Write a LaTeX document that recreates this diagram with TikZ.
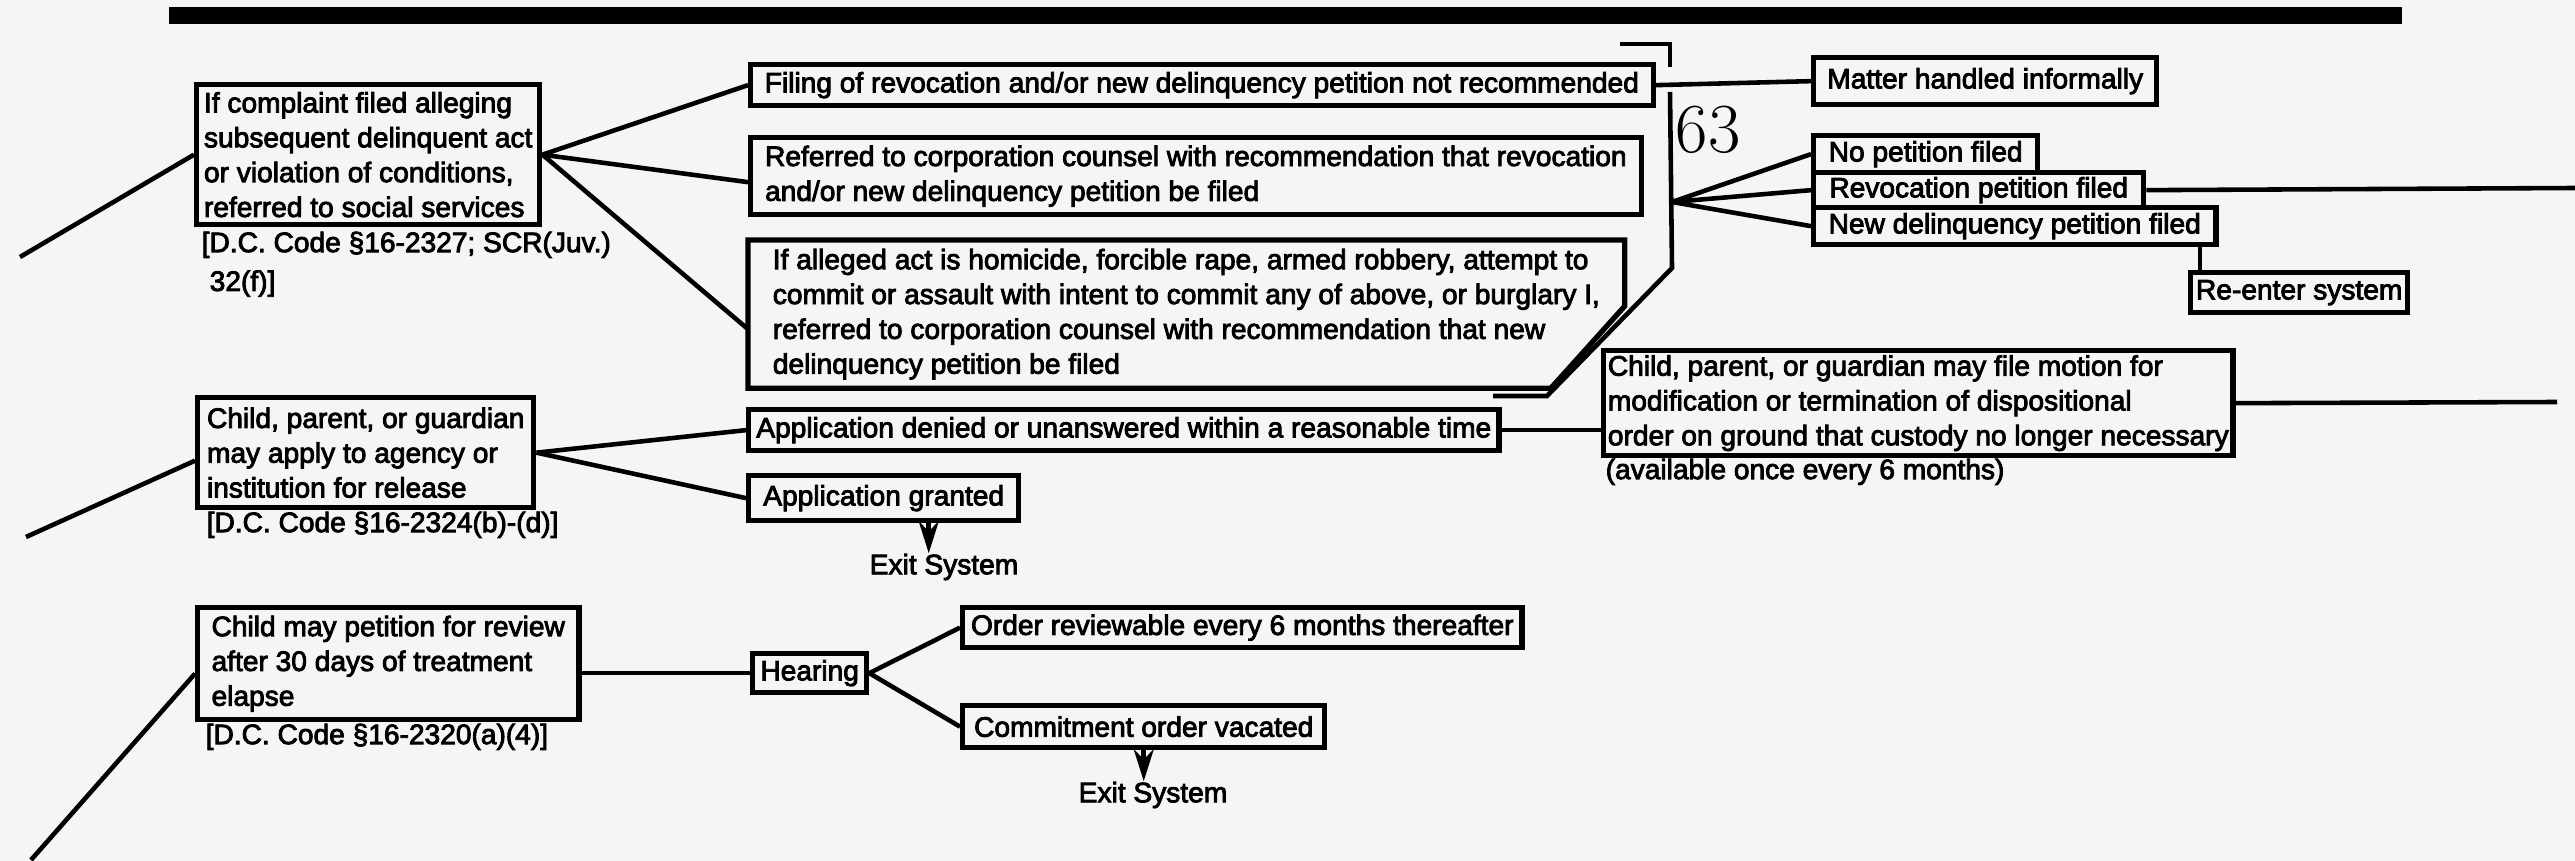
\documentclass[tikz,border=0pt]{standalone}
\usepackage{fontspec}
\usepackage{tikz}
\usetikzlibrary{arrows.meta, calc}
\newfontfamily\chartfont{Liberation Sans}[FakeBold=3]
\definecolor{paper}{RGB}{245,245,243}

\begin{document}
\begin{tikzpicture}[x=0.01cm, y=-0.01cm,
    box/.style={rectangle, draw, line width=1.5pt, anchor=north west, align=left,
        inner xsep=0.04cm, inner ysep=0pt, font=\chartfont\fontsize{8}{9.9}\selectfont},
    note/.style={anchor=north west, inner sep=0pt, align=left,
        font=\chartfont\fontsize{8}{9.9}\selectfont},
    link/.style={line width=1.3pt},
    exitarrow/.style={link, -{Stealth[length=0.32cm, width=0.2cm]}}]

    % Sheet and top rule
    \fill[paper] (0,0) rectangle (2575,861);
    \useasboundingbox (0,0) rectangle (2575,861);
    \fill (169,7) rectangle (2402,24);

    % Subsequent complaint
    \node[box, minimum width=3.43cm, minimum height=1.40cm] (complaint) at (194,82)
        {If complaint filed alleging\\subsequent delinquent act\\or violation of conditions,\\referred to social services};
    \node[note] (complaintcode) at (201,231)
        {[D.C. Code §16-2327; SCR(Juv.)\\[0.04cm]\hspace{0.08cm}32(f)]};
    \coordinate (inA) at (20,257);
    \draw[link] (inA) -- (complaint.west);

    \node[box, minimum width=9.02cm, minimum height=0.41cm] (notrec) at (748,62)
        {Filing of revocation and/or new delinquency petition not recommended};
    \node[box, minimum width=8.90cm, minimum height=0.77cm] (referred) at (748,135)
        {Referred to corporation counsel with recommendation that revocation\\and/or new delinquency petition be filed};
    \node[box, draw=none, minimum width=8.71cm, minimum height=1.43cm] (serious) at (748,240)
        {If alleged act is homicide, forcible rape, armed robbery, attempt to\\commit or assault with intent to commit any of above, or burglary I,\\referred to corporation counsel with recommendation that new\\delinquency petition be filed};
    \draw[line width=1.5pt] (serious.north west) -- (serious.north east)
        -- ([yshift=-0.66cm]serious.north east) -- ([xshift=-0.74cm]serious.south east)
        -- (serious.south west) -- cycle;

    \draw[link] (complaint.east) -- (notrec.west);
    \draw[link] (complaint.east) -- ([yshift=-0.06cm]referred.west);
    \draw[link] (complaint.east) -- ([yshift=-0.15cm]serious.west);

    \node[box, minimum width=3.43cm, minimum height=0.47cm] (informal) at (1811,55)
        {Matter handled informally};
    \draw[link] (notrec.east) -- (informal.west);

    % Page number and gutter
    \node[inner sep=0pt, font=\fontsize{20}{20}\selectfont] (pageno) at (1708,130) {63};
    \coordinate (tab) at (1670,44);
    \coordinate (gutter top) at (1670,92);
    \coordinate (gutter bend) at (1672,268);
    \coordinate (gutter foot) at (1547,396);
    \coordinate (gutter end) at (1493,396);
    \coordinate (fan) at (1672,202);
    \draw[link] ([xshift=-0.5cm]tab) -- (tab) -- ([yshift=-0.23cm]tab);
    \draw[link] (gutter top) -- (gutter bend) -- (gutter foot) -- (gutter end);

    % Petition outcomes
    \node[box, minimum width=2.24cm, minimum height=0.37cm] (nopet) at (1811,133) {No petition filed};
    \node[box, minimum width=3.30cm, minimum height=0.35cm] (revpet) at (1811,170) {Revocation petition filed};
    \node[box, minimum width=4.02cm, minimum height=0.37cm] (newpet) at (1811,205) {New delinquency petition filed};
    \node[box, minimum width=2.17cm, minimum height=0.40cm] (reenter) at (2188,270) {Re-enter system};
    \draw[link] (fan) -- (nopet.west);
    \draw[link] (fan) -- (revpet.west);
    \draw[link] (fan) -- (newpet.west);
    \coordinate (revout) at (2575,188);
    \draw[link] (revpet.east) -- (revout);
    \coordinate (reenterin) at ([xshift=0.12cm]reenter.north west);
    \draw[link] (reenterin |- newpet.south) -- (reenterin);

    % Release application
    \node[box, minimum width=3.36cm, minimum height=1.10cm] (apply) at (195,395)
        {Child, parent, or guardian\\may apply to agency or\\institution for release};
    \node[note] (applycode) at (206,511) {[D.C. Code §16-2324(b)-(d)]};
    \coordinate (inE) at (26,537);
    \draw[link] (inE) -- ([yshift=-0.08cm]apply.west);

    \node[box, minimum width=7.50cm, minimum height=0.41cm] (denied) at (746,407)
        {Application denied or unanswered within a reasonable time};
    \node[box, minimum width=2.70cm, minimum height=0.45cm] (granted) at (746,473)
        {Application granted};
    \draw[link] (apply.east) -- (denied.west);
    \draw[link] (apply.east) -- (granted.west);
    \node[note, anchor=center] (exitA) at (944,567) {Exit System};
    \coordinate (grantedout) at ([xshift=0.45cm]granted.south);
    \draw[exitarrow] (grantedout) -- (grantedout |- exitA.north);

    \node[box, minimum width=6.29cm, minimum height=1.05cm] (motion) at (1601,348)
        {Child, parent, or guardian may file motion for\\modification or termination of dispositional\\order on ground that custody no longer necessary};
    \node[note] (motionnote) at (1605,458) {(available once every 6 months)};
    \draw[link] (denied.east) -- (denied.east -| motion.west);
    \coordinate (motionout) at (2557,402);
    \draw[link] (motion.east) -- (motionout);

    % Review petition
    \node[box, minimum width=3.81cm, minimum height=1.12cm] (review) at (195,605)
        {Child may petition for review\\after 30 days of treatment\\elapse};
    \node[note] (reviewcode) at (205,723) {[D.C. Code §16-2320(a)(4)]};
    \coordinate (inF) at (31,860);
    \draw[link] (inF) -- ([yshift=-0.1cm]review.west);

    \node[box, minimum width=1.14cm, minimum height=0.39cm] (hearing) at (750,651) {Hearing};
    \draw[link] (hearing.west -| review.east) -- (hearing.west);
    \node[box, minimum width=5.59cm, minimum height=0.40cm] (reviewable) at (960,605)
        {Order reviewable every 6 months thereafter};
    \node[box, minimum width=3.62cm, minimum height=0.42cm] (vacated) at (960,703)
        {Commitment order vacated};
    \draw[link] (hearing.east) -- (reviewable.west);
    \draw[link] (hearing.east) -- (vacated.west);
    \node[note, anchor=center] (exitB) at (1153,795) {Exit System};
    \draw[exitarrow] (vacated.south) -- (vacated.south |- exitB.north);
\end{tikzpicture}
\end{document}
